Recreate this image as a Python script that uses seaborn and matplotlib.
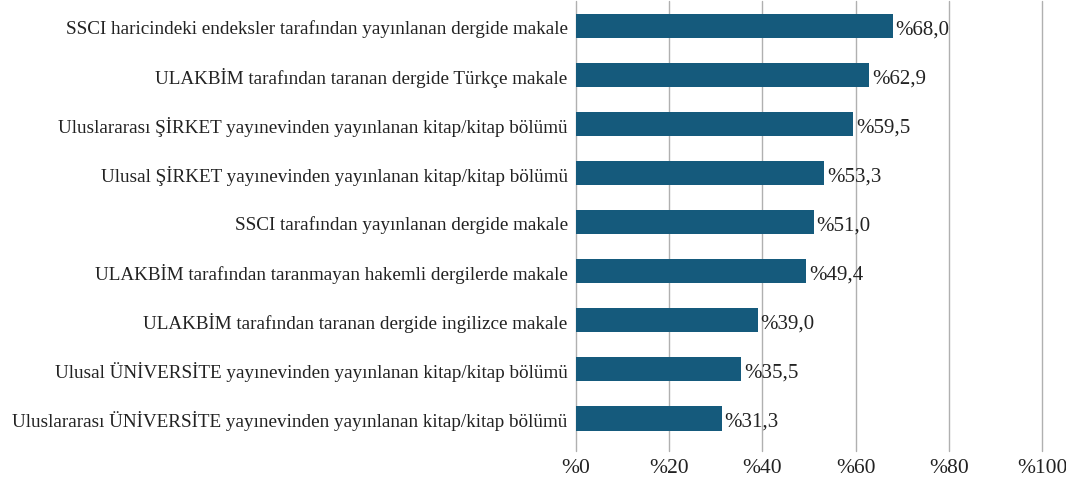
import pandas as pd
import matplotlib.pyplot as plt
import seaborn as sns

categories = [
    "SSCI haricindeki endeksler tarafından yayınlanan dergide makale",
    "ULAKBİM tarafından taranan dergide Türkçe makale",
    "Uluslararası ŞİRKET yayınevinden yayınlanan kitap/kitap bölümü",
    "Ulusal ŞİRKET yayınevinden yayınlanan kitap/kitap bölümü",
    "SSCI tarafından yayınlanan dergide makale",
    "ULAKBİM tarafından taranmayan hakemli dergilerde makale",
    "ULAKBİM tarafından taranan dergide ingilizce makale",
    "Ulusal ÜNİVERSİTE yayınevinden yayınlanan kitap/kitap bölümü",
    "Uluslararası ÜNİVERSİTE yayınevinden yayınlanan kitap/kitap bölümü",
]
values = [68.0, 62.9, 59.5, 53.3, 51.0, 49.4, 39.0, 35.5, 31.3]
xticks = [0, 20, 40, 60, 80, 100]

df = pd.DataFrame({"kategori": categories, "oran": values})

sns.set_theme(style="white")
plt.rcParams["font.family"] = ["Liberation Serif", "DejaVu Serif"]

fig = plt.figure(figsize=(10.66, 4.81), dpi=100)
ax = fig.add_axes([0.5403, 0.060, 0.4372, 0.935])

sns.barplot(data=df, y="kategori", x="oran", color="#155a7c", saturation=1,
            width=0.5, linewidth=0, ax=ax, zorder=3)

ax.set_xlim(0, 100)
ax.set_ylim(8.67, -0.5)
ax.set_xticks(xticks)
ax.set_xticklabels([f"%{t}" for t in xticks], fontsize=15.5, color="#222222")
ax.tick_params(axis="y", labelsize=13.8, labelcolor="#222222", length=0, pad=6)
ax.tick_params(axis="x", length=0, pad=5)
ax.grid(axis="x", color="#b0b0b0", linewidth=1, zorder=0)
for gl in ax.get_xgridlines():
    gl.set_clip_on(False)
ax.set_xlabel("")
ax.set_ylabel("")
for s in ax.spines.values():
    s.set_visible(False)

for i, v in enumerate(values):
    ax.text(v + 0.6, i + 0.06, "%" + f"{v:.1f}".replace(".", ","), va="center",
            ha="left", fontsize=15, color="#222222", zorder=4)

fig.savefig("out.png", dpi=100)
